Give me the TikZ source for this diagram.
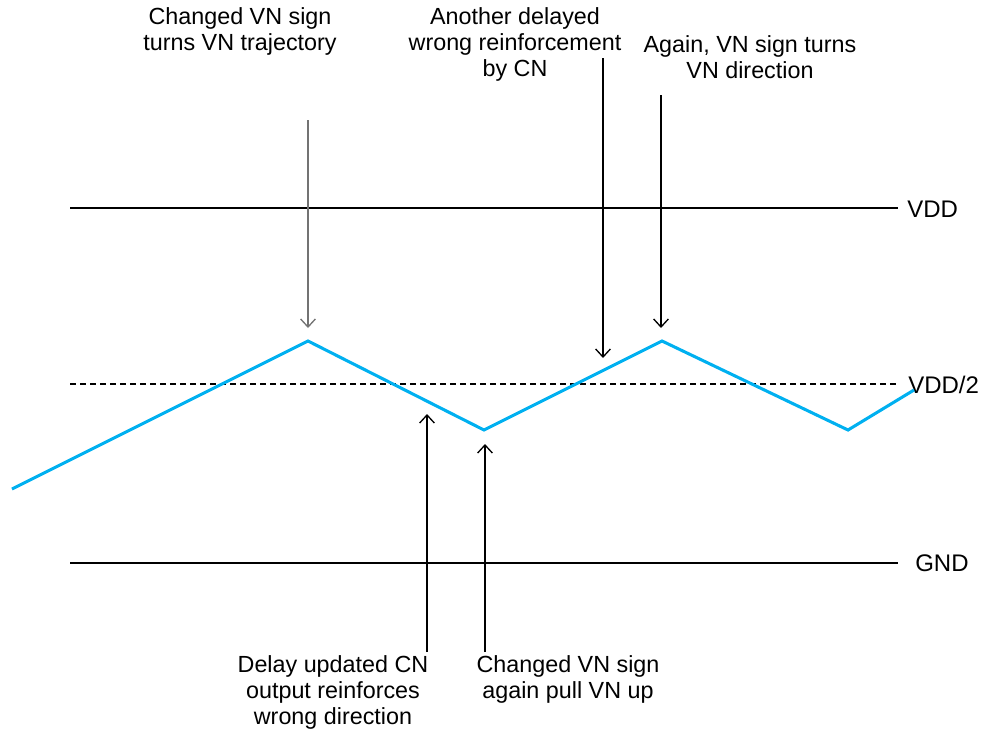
\documentclass[tikz,border=0pt]{standalone}
\usepackage{fontspec}
\setmainfont{Liberation Sans}
\usetikzlibrary{arrows.meta}
\definecolor{sig}{RGB}{0,176,240}
\begin{document}
\begin{tikzpicture}[x=0.75pt,y=-0.75pt,
  rail/.style={line width=1.5pt,black},
  mid/.style={line width=1.2pt,black,dash pattern=on 4.5pt off 3pt},
  wave/.style={line width=2.3pt,sig,line join=miter},
  note/.style={font=\fontsize{17.5}{19.5}\selectfont,align=center,inner sep=0pt},
  lbl/.style={font=\fontsize{18}{20}\selectfont,anchor=west,inner sep=0pt},
  pointer/.style={line width=1pt,-{Straight Barb[length=6pt,width=11pt]}}]
\useasboundingbox (0,0) rectangle (987,736);
% rails
\coordinate (vddL) at (70,208); \coordinate (vddR) at (898,208);
\coordinate (gndL) at (70,563); \coordinate (gndR) at (898,563);
\coordinate (midL) at (70,384); \coordinate (midR) at (896,384);
\draw[rail] (vddL) -- (vddR);
\draw[rail] (gndL) -- (gndR);
\draw[mid] (midL) -- (midR);
\node[lbl] (vdd) at (907,209) {VDD};
\node[lbl] (gnd) at (915,563) {GND};
\node[lbl] (half) at (908,385) {VDD/2};
% waveform
\coordinate (w0) at (12,489);
\coordinate (p1) at (308,341);
\coordinate (v1) at (484,430);
\coordinate (p2) at (662,341);
\coordinate (v2) at (848,430);
\coordinate (w5) at (914,390);
\draw[wave] (w0) -- (p1) -- (v1) -- (p2) -- (v2) -- (w5);
% top notes
\node[note] (n1) at (240,31) {Changed VN sign\\turns VN trajectory};
\node[note] (n2) at (515,44) {Another delayed\\wrong reinforcement\\by CN};
\node[note] (n3) at (750,57) {Again, VN sign turns\\VN direction};
% bottom notes
\node[note] (n4) at (333,692) {Delay updated CN\\output reinforces\\wrong direction};
\node[note] (n5) at (568,679) {Changed VN sign\\again pull VN up};
% pointers
\coordinate (a1s) at (308,120); \coordinate (a1e) at (308,328);
\coordinate (a2s) at (603,58);  \coordinate (a2e) at (603,358);
\coordinate (a3s) at (661,95);  \coordinate (a3e) at (661,328);
\coordinate (a4s) at (427,652); \coordinate (a4e) at (427,414);
\coordinate (a5s) at (485,652); \coordinate (a5e) at (485,444);
\draw[pointer,black!55] (a1s) -- (a1e);
\draw[pointer] (a2s) -- (a2e);
\draw[pointer] (a3s) -- (a3e);
\draw[pointer] (a4s) -- (a4e);
\draw[pointer] (a5s) -- (a5e);
\end{tikzpicture}
\end{document}
